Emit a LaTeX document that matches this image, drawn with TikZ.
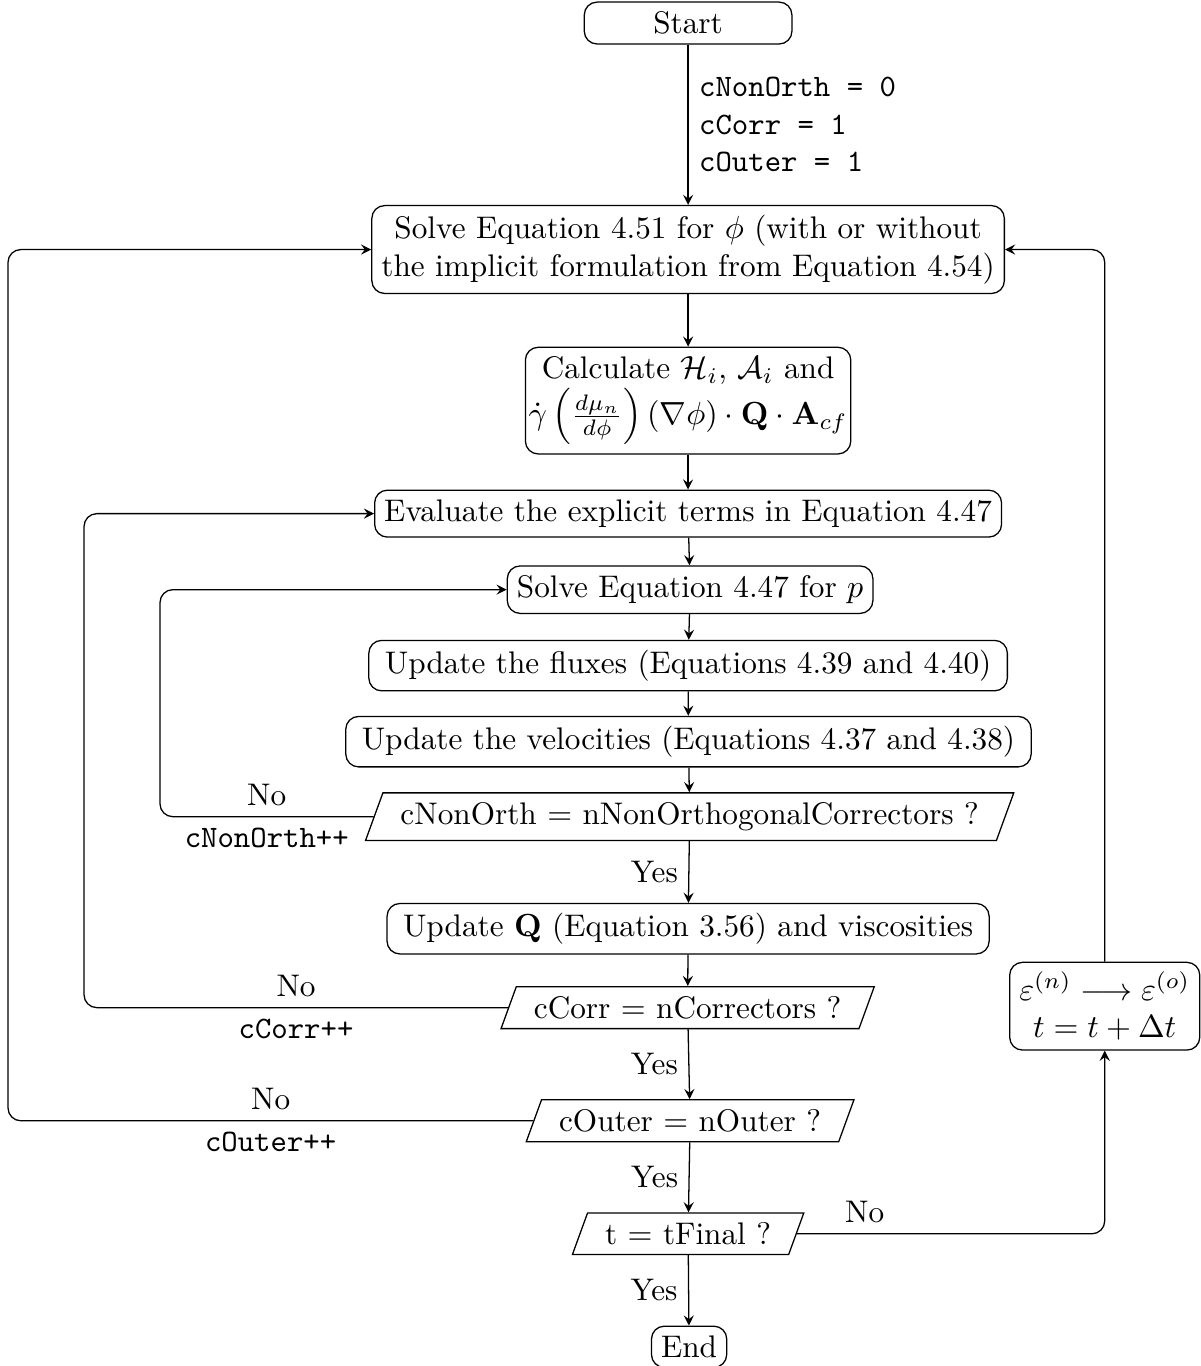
\documentclass[tikz,border=0pt]{standalone}
\usepackage{amsmath,amssymb}
\usepackage{tikz}
\usetikzlibrary{arrows,shapes.geometric,positioning}

\begin{document}
\fontsize{9.76}{11.7}\selectfont
\begin{tikzpicture}
	[
		B/.style = {rectangle, rounded corners, align=center, draw, inner sep=3pt},
		D/.style = {trapezium, trapezium left angle=70, trapezium right angle=110, trapezium stretches body, align=center, draw, inner ysep=3pt, inner xsep=5.5pt},
		E/.style = {-stealth, rounded corners},
	]
	\useasboundingbox (0,0) rectangle (13.18,-15.00);

	% process boxes
	\node[B, minimum width=2.28cm] (start) 	at ( 7.556, -0.253 ) {Start};
	\node[B] (solve) 	at ( 7.556, -2.740 ) {Solve Equation 4.51 for $\phi$ (with or without\\the implicit formulation from Equation 4.54)};
	\node[B, inner xsep=1pt] (calc) 	at ( 7.556, -4.399 ) {Calculate $\mathcal{H}_i$, $\mathcal{A}_i$ and\\$\dot{\gamma}\left(\frac{d\mu_n}{d\phi}\right)(\nabla\phi)\cdot\mathbf{Q}\cdot\mathbf{A}_{cf}$};
	\node[B] (eval) 	at ( 7.556, -5.640 ) {Evaluate the explicit terms in Equation 4.47};
	\node[B] (solvep) 	at ( 7.578, -6.475 ) {Solve Equation 4.47 for $p$};
	\node[B, inner xsep=5pt] (flux) 	at ( 7.556, -7.309 ) {Update the fluxes (Equations 4.39 and 4.40)};
	\node[B, inner xsep=5pt] (vel) 	at ( 7.560, -8.144 ) {Update the velocities (Equations 4.37 and 4.38)};
	\node[B, inner xsep=5pt] (updq) 	at ( 7.556, -10.198 ) {Update $\mathbf{Q}$ (Equation 3.56) and viscosities};
	\node[B] (step) 	at ( 12.131, -11.049 ) {$\varepsilon^{(n)}\longrightarrow\varepsilon^{(o)}$\\$t=t+\Delta t$};
	\node[B] (end) 	at ( 7.567, -14.789 ) {End};

	% decisions
	\node[D] (dnon) 	at ( 7.573, -8.968 ) {cNonOrth $=$ nNonOrthogonalCorrectors ?};
	\node[D] (dcorr) 	at ( 7.551, -11.065 ) {cCorr $=$ nCorrectors ?};
	\node[D] (douter) 	at ( 7.578, -12.307 ) {cOuter $=$ nOuter ?};
	\node[D] (dtime) 	at ( 7.556, -13.548 ) {t $=$ tFinal ?};

	% loop columns
	\coordinate (xnon) 	at ( 1.757, 0 );
	\coordinate (xcorr) 	at ( 0.923, 0 );
	\coordinate (xout) 	at ( 0.088, 0 );

	\draw[E] (start) -- node[right, align=left, font=\ttfamily] {cNonOrth = 0\\cCorr = 1\\cOuter = 1} (solve);

	\foreach \from/\to in {solve/calc,calc/eval,eval/solvep,solvep/flux,flux/vel,vel/dnon,updq/dcorr}
	\draw[E] (\from) -- (\to);

	\draw[E] (dnon) -- node[left] {Yes} (updq);
	\draw[E] (dcorr) -- node[left] {Yes} (douter);
	\draw[E] (douter) -- node[left] {Yes} (dtime);
	\draw[E] (dtime) -- node[left] {Yes} (end);

	\draw[E] (dnon.west) -- node[above] {No} node[below, font=\ttfamily] {cNonOrth++} (dnon.west -| xnon) |- (solvep.west);
	\draw[E] (dcorr.west) -- node[above] {No} node[below, font=\ttfamily] {cCorr++} (dcorr.west -| xcorr) |- (eval.west);
	\draw[E] (douter.west) -- node[above] {No} node[below, font=\ttfamily] {cOuter++} (douter.west -| xout) |- (solve.west);

	\draw[E] (dtime.east) -| node[pos=0.11, above] {No} (step.south);
	\draw[E] (step.north) |- (solve.east);

\end{tikzpicture}
\end{document}
